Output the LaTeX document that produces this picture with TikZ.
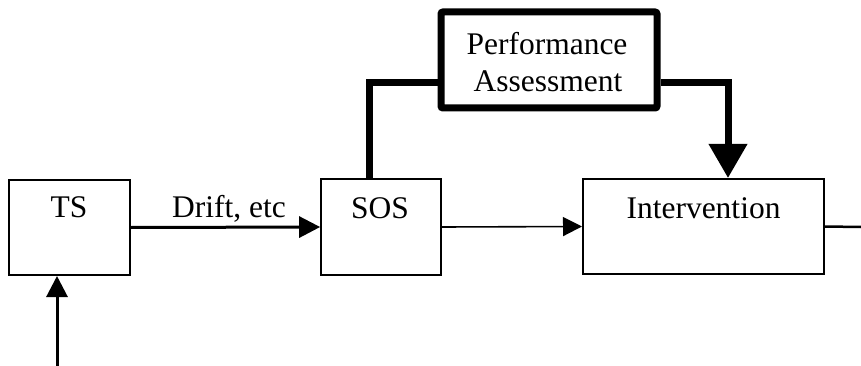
\documentclass[tikz,border=0pt]{standalone}
\usepackage{fontspec}
\setmainfont{Liberation Serif}
\usetikzlibrary{arrows.meta,calc}
\begin{document}
\begin{tikzpicture}[x=1pt,y=-1pt,
  box/.style={draw,line width=2pt,inner sep=0pt},
  perfbox/.style={draw,line width=7pt,rounded corners=2pt,inner sep=0pt},
  lbl/.style={anchor=base,inner sep=0pt,font=\fontsize{31.5}{36}\selectfont},
  med/.style={line width=3pt,-{Triangle[length=21pt,width=21pt]}},
  thin/.style={line width=1.6pt,-{Triangle[length=19pt,width=19pt]}},
  fat/.style={line width=7pt,line join=miter}]
\useasboundingbox (0,0) rectangle (861,366);
\node[box,minimum width=121pt,minimum height=95pt] (ts) at (69.5,227.5) {};
\node[box,line width=1.7pt,minimum width=120pt,minimum height=96pt] (sos) at (381,227) {};
\node[box,minimum width=241pt,minimum height=95pt] (int) at (703.5,226.5) {};
\node[perfbox,minimum width=216pt,minimum height=96pt] (perf) at (549,60) {};
\node[lbl] (tst) at (69,217.5) {TS};
\node[lbl] (sost) at (380,218) {SOS};
\node[lbl] (intt) at (703.5,218) {Intervention};
\node[lbl] (perft1) at (547,55) {Performance};
\node[lbl] (perft2) at (548,92) {Assessment};
\node[lbl] (drift) at (229,217) {Drift, etc};
\coordinate (in) at (57,366);
\coordinate (out) at (861,227);
\coordinate (sosup) at (369,0);
\coordinate (pl) at (0,83);
\coordinate (pr) at (728,0);
\draw[med] (ts.east) -- (sos.west);
\draw[thin] (sos.east) -- (int.west);
\draw[line width=2.5pt] (int.east) -- (out);
\draw[med] (in) -- (in |- ts.south);
\draw[fat] (sosup |- sos.north) -- (sosup |- pl) -- (perf.west |- pl);
\draw[fat,-{Triangle[length=34pt,width=37pt]}] (perf.east |- pl) -- (pr |- pl) -- (pr |- int.north);
\end{tikzpicture}
\end{document}
